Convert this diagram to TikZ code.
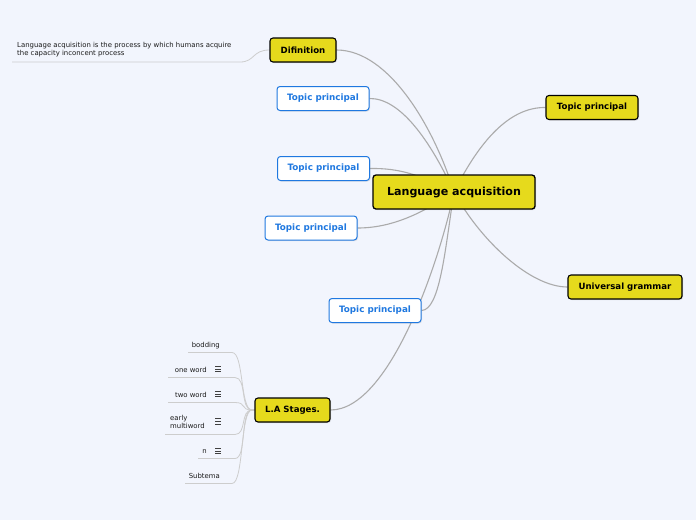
\documentclass[tikz,border=0pt]{standalone}
\usepackage{fontspec}
\setmainfont{DejaVu Sans}
\usetikzlibrary{shadows,calc}
\definecolor{bgc}{HTML}{F2F5FD}
\definecolor{yel}{HTML}{E6DA1C}
\definecolor{blu}{HTML}{1F78E0}
\definecolor{lin}{HTML}{ABABAB}
\definecolor{subl}{HTML}{CDCDCD}
\definecolor{txt}{HTML}{1A1A1A}
\pgfdeclarelayer{back}
\pgfdeclarelayer{paper}
\pgfsetlayers{paper,back,main}
\tikzset{
  yelbox/.style={draw=black, line width=1.1pt, fill=yel, rounded corners=3pt,
    font=\bfseries\fontsize{8.6}{10}\selectfont, minimum height=24pt, inner sep=0pt,
    drop shadow={opacity=0.25, shadow xshift=1pt, shadow yshift=-1pt}},
  blubox/.style={draw=blu, line width=1pt, fill=white, rounded corners=3pt, text=blu,
    font=\bfseries\fontsize{8.8}{10}\selectfont, minimum height=24pt, minimum width=92pt, inner sep=0pt,
    drop shadow={opacity=0.2, shadow xshift=1pt, shadow yshift=-1pt}},
  conn/.style={draw=lin, line width=1.1pt},
  subconn/.style={draw=subl, line width=0.8pt},
  leaf/.style={font=\fontsize{6.9}{8.5}\selectfont, text=txt, inner sep=0pt},
}
\newcommand{\listicon}[1]{%
  \foreach \dy in {-2.6,0,2.6}{\draw[line width=0.9pt, black!75] ($(#1)+(0,\dy)$) -- ++(6,0);}}
\begin{document}
\begin{tikzpicture}[x=1pt,y=-1pt]
\begin{pgfonlayer}{paper}
\fill[bgc] (0,0) rectangle (696,520);
\end{pgfonlayer}
\useasboundingbox (0,0) rectangle (696,520);

% main nodes
\node[yelbox, minimum width=162pt, minimum height=34pt, font=\bfseries\fontsize{11.1}{13}\selectfont, line width=1.3pt] (c) at (454,192) {Language acquisition};
\node[yelbox, minimum width=66pt] (d) at (303,50) {Difinition};
\node[blubox] (t1) at (323,98.5) {Topic principal};
\node[blubox] (t2) at (323.5,168.5) {Topic principal};
\node[blubox] (t3) at (311,228) {Topic principal};
\node[blubox] (t4) at (375,310.5) {Topic principal};
\node[yelbox, minimum width=92pt] (tr) at (592,107.5) {Topic principal};
\node[yelbox, minimum width=114pt] (ug) at (625,287) {Universal grammar};
\node[yelbox, minimum width=75pt] (la) at (292.5,410) {L.A Stages.};

% definition leaf
\node[leaf, anchor=north west, align=left] (dt) at (17,42) {Language acquisition is the process by which humans acquire\\the capacity inconcent process};
\coordinate (dl) at (12,62);
\coordinate (dr) at (240,62);

% stage leaves
\node[leaf, anchor=east] (s1) at (220,345.5) {bodding};
\node[leaf, anchor=east] (s2) at (207,369.5) {one word};
\node[leaf, anchor=east] (s3) at (207,394.5) {two word};
\node[leaf, anchor=west, align=left] (s4) at (170,422) {early\\multiword};
\node[leaf, anchor=east] (s5) at (207,451.5) {n};
\node[leaf, anchor=east] (s6) at (220,475.5) {Subtema};
\listicon{215,369}
\listicon{215,394}
\listicon{215,421.5}
\listicon{215,451}

\coordinate (a1) at (188,352.5); \coordinate (b1) at (232,352.5);
\coordinate (a2) at (168,377.5); \coordinate (b2) at (235,377.5);
\coordinate (a3) at (168,402.5); \coordinate (b3) at (235,402.5);
\coordinate (a4) at (165,434.5); \coordinate (b4) at (235,434.5);
\coordinate (a5) at (198,458.5); \coordinate (b5) at (235,458.5);
\coordinate (a6) at (185,483.5); \coordinate (b6) at (232,483.5);
\coordinate (hub) at (252,410);

\begin{pgfonlayer}{back}
  \draw[conn] (c.center) .. controls (435,130) and (390,50) .. (d.east);
  \draw[conn] (c.center) .. controls (430,140) and (400,98) .. (t1.east);
  \draw[conn] (c.center) .. controls (420,175) and (400,168) .. (t2.east);
  \draw[conn] (c.center) .. controls (420,215) and (390,228) .. (t3.east);
  \draw[conn] (c.center) .. controls (445,250) and (440,310) .. (t4.east);
  \draw[conn] (c.center) .. controls (440,260) and (390,410) .. (la.east);
  \draw[conn] (c.center) .. controls (480,140) and (510,107) .. (tr.west);
  \draw[conn] (c.center) .. controls (480,240) and (530,287) .. (ug.west);
  % definition leaf
  \draw[subconn] (dl) -- (dr) .. controls (255,62) and (252,50) .. (d.west);
  % stage leaves
  \foreach \i in {1,...,6}{
    \draw[subconn] (a\i) -- (b\i) .. controls ($(b\i)+(12,0)$) and ($(hub)+(-12,0)$) .. (hub) -- (la.west);
  }
\end{pgfonlayer}
\end{tikzpicture}
\end{document}
